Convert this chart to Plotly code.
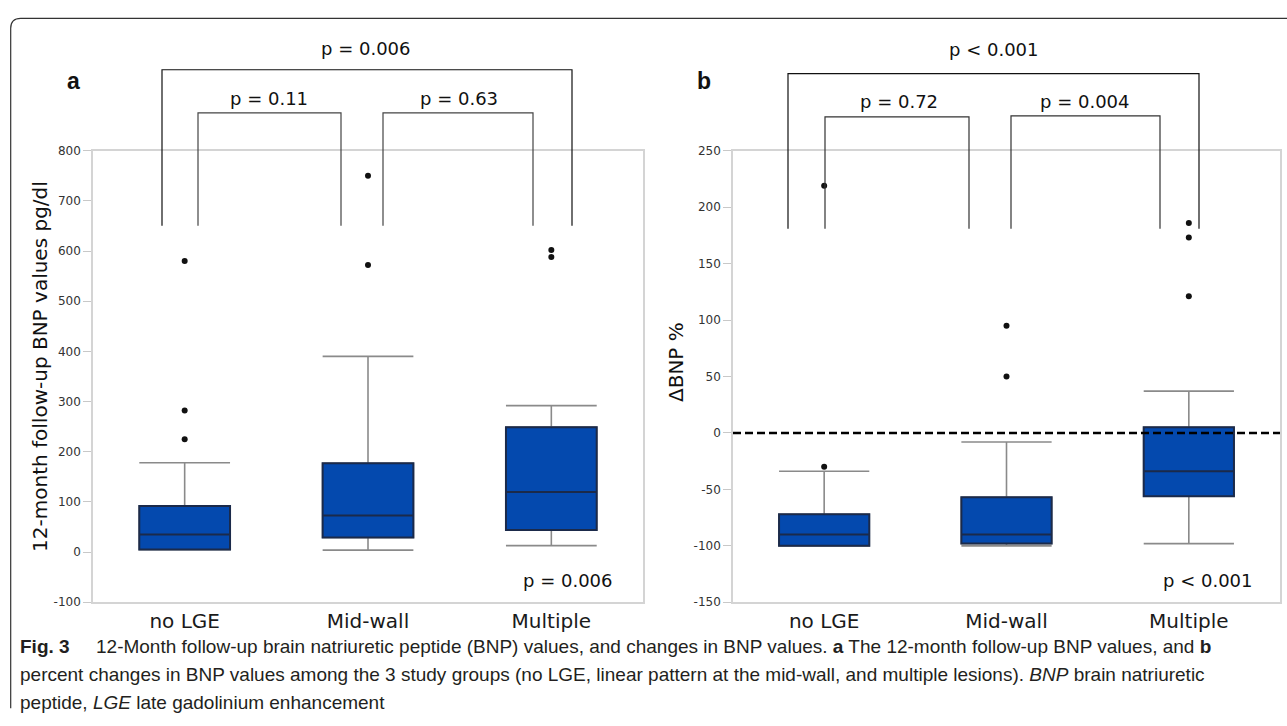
import plotly.graph_objects as go

W, H = 1287, 726

# ---------------- data ----------------
categories = ["no LGE", "Mid-wall", "Multiple"]

# Panel a: 12-month follow-up BNP values (pg/dl)
a_lower = [5, 4, 13]
a_q1 = [5, 29, 44]
a_median = [35, 73, 120]
a_q3 = [92, 177, 249]
a_upper = [178, 390, 292]
a_outliers = [[225, 282, 580], [572, 750], [588, 602]]
a_yticks = list(range(-100, 801, 100))
a_yticktext = [str(v) for v in a_yticks]

# Panel b: change in BNP (%)
b_lower = [-100, -100, -98]
b_q1 = [-100, -98, -56]
b_median = [-90, -90, -34]
b_q3 = [-72, -57, 5]
b_upper = [-34, -8, 37]
b_outliers = [[-30, 219], [50, 95], [121, 173, 186]]
b_yticks = list(range(-150, 251, 50))
b_yticktext = [str(v) for v in b_yticks]

a_p_overall, a_p_12, a_p_23 = "p = 0.006", "p = 0.11", "p = 0.63"
b_p_overall, b_p_12, b_p_23 = "p < 0.001", "p = 0.72", "p = 0.004"

caption_lines = [
    "<b>Fig. 3</b>     12-Month follow-up brain natriuretic peptide (BNP) values, and changes in BNP values. <b>a</b> The 12-month follow-up BNP values, and <b>b</b>",
    "percent changes in BNP values among the 3 study groups (no LGE, linear pattern at the mid-wall, and multiple lesions). <i>BNP</i> brain natriuretic",
    "peptide, <i>LGE</i> late gadolinium enhancement",
]


# ---------------- helpers (pixel -> paper) ----------------
def px(x):
    return x / W


def py(y):
    return 1 - y / H


BOX_FILL = "#0449ae"
BOX_LINE = "#1b2a4a"
WHISK = "#8a8a8a"
FRAME = "#d4d4d4"
BASE_FONT = "DejaVu Sans"

fig = go.Figure()


def add_panel(xa, ya, lower, q1, med, q3, upper, outliers):
    # whiskers and caps (grey)
    fig.add_trace(go.Box(
        x=categories, q1=q1, median=med, q3=q3, lowerfence=lower, upperfence=upper,
        fillcolor="rgba(0,0,0,0)", line=dict(color=WHISK, width=1.6),
        whiskerwidth=1, width=0.495, boxpoints=False, showlegend=False,
        xaxis=xa, yaxis=ya, hoverinfo="skip"))
    # box body with dark outline and median
    fig.add_trace(go.Box(
        x=categories, q1=q1, median=med, q3=q3, lowerfence=q1, upperfence=q3,
        fillcolor=BOX_FILL, line=dict(color=BOX_LINE, width=2),
        whiskerwidth=0, width=0.495, boxpoints=False, showlegend=False,
        xaxis=xa, yaxis=ya, hoverinfo="skip"))
    ox, oy = [], []
    for c, vals in zip(categories, outliers):
        ox += [c] * len(vals)
        oy += vals
    fig.add_trace(go.Scatter(
        x=ox, y=oy, mode="markers", marker=dict(size=6, color="#111111"),
        showlegend=False, xaxis=xa, yaxis=ya, hoverinfo="skip"))


add_panel("x", "y", a_lower, a_q1, a_median, a_q3, a_upper, a_outliers)
add_panel("x2", "y2", b_lower, b_q1, b_median, b_q3, b_upper, b_outliers)

xcommon = dict(type="category", categoryorder="array", categoryarray=categories,
               range=[-0.5, 2.5], showline=True, mirror=True, linecolor=FRAME,
               linewidth=1.5, ticks="", showgrid=False, zeroline=False,
               tickfont=dict(family=BASE_FONT, size=20, color="#1a1a1a"))
ycommon = dict(showline=True, mirror=True, linecolor=FRAME, linewidth=1.5,
               ticks="outside", ticklen=8, tickcolor="#c8c8c8", tickwidth=1,
               showgrid=False, zeroline=False,
               tickfont=dict(family=BASE_FONT, size=12, color="#333333"))

fig.update_layout(
    width=W, height=H,
    margin=dict(l=0, r=0, t=0, b=0),
    paper_bgcolor="white", plot_bgcolor="white",
    boxmode="overlay",
    xaxis=dict(domain=[px(93), px(643)], anchor="y", **xcommon),
    yaxis=dict(domain=[py(607), py(146.5)], anchor="x", range=[-100, 800],
               tickvals=a_yticks, ticktext=a_yticktext, **ycommon),
    xaxis2=dict(domain=[px(733), px(1280)], anchor="y2", **xcommon),
    yaxis2=dict(domain=[py(607), py(146.5)], anchor="x2", range=[-150, 250],
                tickvals=b_yticks, ticktext=b_yticktext, **ycommon),
)

shapes = []
# dashed reference line at 0 in panel b
shapes.append(dict(type="line", xref="x2 domain", yref="y2", x0=0, x1=1, y0=0, y1=0,
                   line=dict(color="black", width=2.5, dash="8px,4px")))


def bracket(x1, x2, ytop, ybot, color):
    path = (f"M {px(x1)},{py(ybot)} L {px(x1)},{py(ytop)} "
            f"L {px(x2)},{py(ytop)} L {px(x2)},{py(ybot)}")
    return dict(type="path", xref="paper", yref="paper", path=path,
                line=dict(color=color, width=1.2))


shapes += [
    bracket(162, 572, 64, 223, "#111111"),
    bracket(198, 341, 108, 223, "#444444"),
    bracket(383, 533, 108, 223, "#444444"),
    bracket(788, 1199, 68, 226, "#111111"),
    bracket(825, 969, 112, 226, "#333333"),
    bracket(1011, 1160, 111, 226, "#333333"),
]

# outer rounded figure frame
r = 10
fx0, fy0, fy1 = 10.7, 11.7, 725
frame_path = (f"M {px(fx0)},{py(fy1 - r)} L {px(fx0)},{py(fy0 + r)} "
              f"Q {px(fx0)},{py(fy0)} {px(fx0 + r)},{py(fy0)} L {px(1300)},{py(fy0)}")
shapes.append(dict(type="path", xref="paper", yref="paper", path=frame_path,
                   line=dict(color="#333333", width=1.2)))
fig.update_layout(shapes=shapes)

ann = []


def text(x, y, s, size, family=BASE_FONT, color="#111111", **kw):
    d = dict(x=px(x), y=py(y), xref="paper", yref="paper", text=s, showarrow=False,
             font=dict(family=family, size=size, color=color),
             xanchor="center", yanchor="middle")
    d.update(kw)
    ann.append(d)


# bracket p-values
text(365, 42, a_p_overall, 18)
text(269, 93, a_p_12, 18)
text(459, 93, a_p_23, 18)
text(993, 43, b_p_overall, 18)
text(899, 96, b_p_12, 18)
text(1084, 96, b_p_23, 18)
# in-plot p-values
text(567, 585, a_p_overall, 18)
text(1207, 585, b_p_overall, 18)
# panel letters
text(73, 75, "<b>a</b>", 23, family="Liberation Sans")
text(704, 75, "<b>b</b>", 23, family="Liberation Sans")
# axis titles
text(40, 367, "12-month follow-up BNP values pg/dl", 20, textangle=-90)
text(676, 362, "ΔBNP %", 20, textangle=-90)
# caption
cap_font = "Liberation Sans, Arial"
for s, yy in zip(caption_lines, [652, 681, 709]):
    text(18, yy, s, 19, family=cap_font, color="#231f20", xanchor="left", align="left")

fig.update_layout(annotations=ann)

fig.write_html("out.html", config={"displayModeBar": False},
               post_script="document.body.style.margin='0';document.body.style.padding='0';")
